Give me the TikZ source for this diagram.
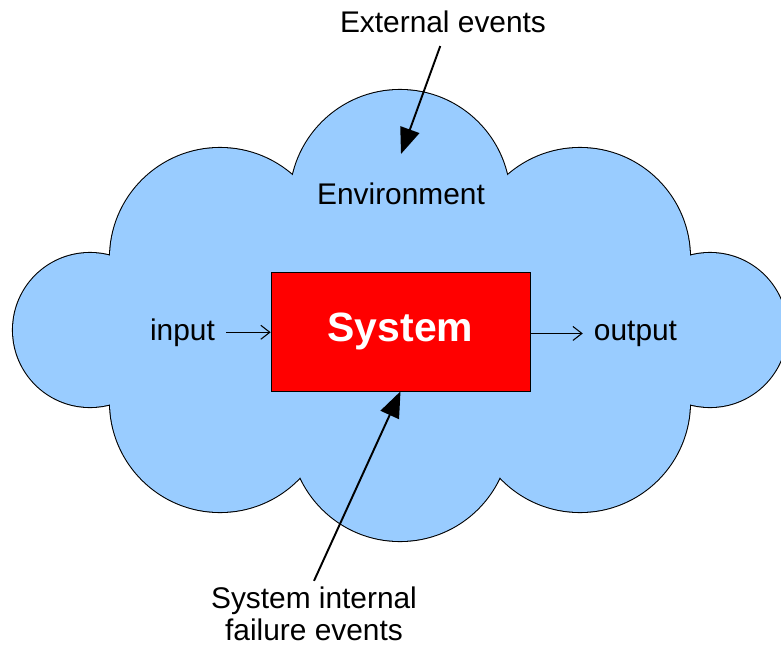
\documentclass[tikz,border=0pt]{standalone}
\usepackage{fontspec}
\setmainfont{Liberation Sans}
\usetikzlibrary{arrows.meta, positioning}
\definecolor{cloudblue}{HTML}{99CCFF}
\definecolor{sysred}{HTML}{FF0000}
\tikzset{
  lbl/.style={font=\fontsize{17}{18.2}\selectfont},
  sysbox/.style={draw, fill=sysred, minimum width=5.18cm, minimum height=2.38cm, inner sep=0pt, text=white, font=\fontsize{23.3}{26}\selectfont\bfseries},
  flowarrow/.style={-{Straight Barb[length=0.18cm, width=0.28cm]}, line width=0.6pt},
  evarrow/.style={-{Triangle[length=0.52cm, width=0.4cm]}, line width=1.1pt},
}
% lobes of the cloud, in pixel units
\newcommand{\cloudlobes}{(90,330) circle[radius=77] (220,258) circle[radius=110] (400,200) circle[radius=110] (580,258) circle[radius=110] (710,330) circle[radius=77] (580,402) circle[radius=110] (400,431) circle[radius=110] (220,402) circle[radius=110]}

\begin{document}
\begin{tikzpicture}[x=0.02cm, y=-0.02cm]
    \useasboundingbox (0,0) rectangle (781,646);
    % Environment cloud
    \begin{scope}
        \clip (0,0) rectangle (781,646);
        \filldraw[fill=cloudblue, draw=black, line width=1.2pt] \cloudlobes;
        \fill[cloudblue] \cloudlobes;
        \fill[cloudblue] (150,260) rectangle (650,400);
    \end{scope}
    \node[lbl, anchor=base] (env) at (401,204) {Environment};
    % System box
    \node[sysbox] (sys) at (400.5,331.5) {System};
    % Input / output
    \node[lbl, anchor=base] (in) at (182.5,340) {input};
    \node[lbl, anchor=base] (out) at (635.5,340) {output};
    \draw[flowarrow, shorten <=0.1cm] (in.east) -- (in.east -| sys.west);
    \draw[flowarrow, shorten >=0.1cm] (sys.east |- out.west) -- (out.west);
    % External events
    \node[lbl, anchor=base] (ext) at (443,32) {External events};
    \coordinate (exttip) at (401,154);
    \draw[evarrow, shorten <=0.16cm] (ext.south) -- (exttip);
    % Internal failure events
    \node[lbl, align=center] (fail) at (314,614) {System internal\\failure events};
    \draw[evarrow] (fail.north) -- (sys.south);
\end{tikzpicture}
\end{document}
